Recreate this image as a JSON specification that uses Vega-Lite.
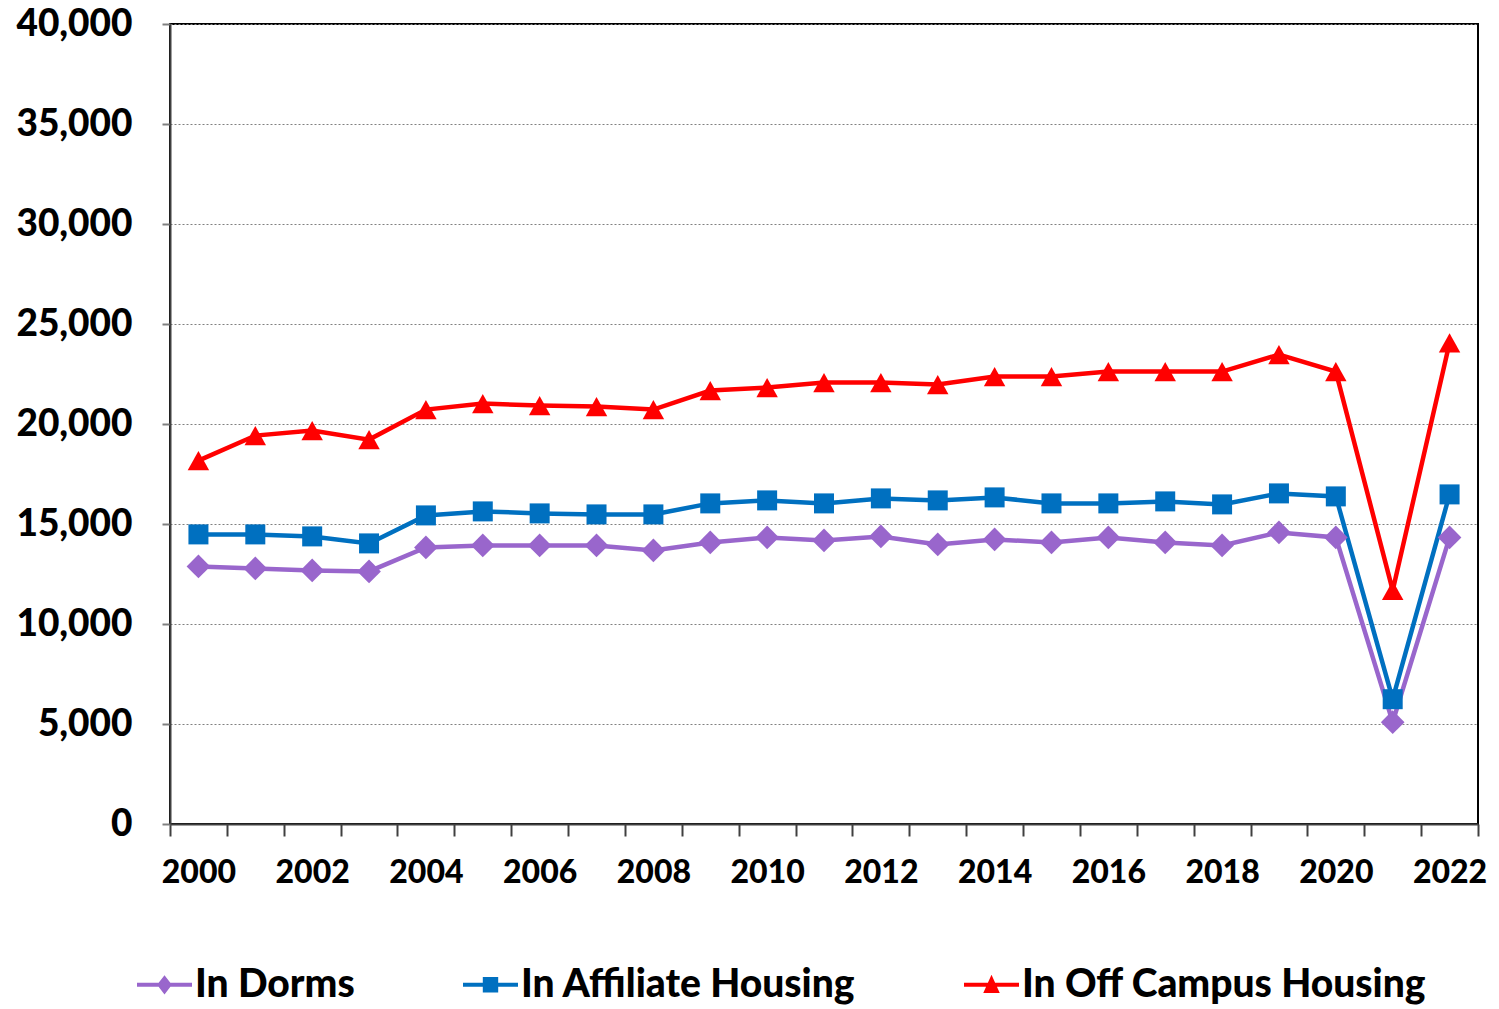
{
  "$schema": "https://vega.github.io/schema/vega-lite/v6.json",
  "width": 1308,
  "height": 800,
  "autosize": "none",
  "padding": {"left": 170, "top": 24, "right": 21, "bottom": 185},
  "background": "white",
  "config": {
    "font": "Lato",
    "view": {"stroke": "#000000", "strokeWidth": 2},
    "axis": {"labelFont": "Lato", "labelFontWeight": 900, "labelColor": "#000000"}
  },
  "data": {
    "values": [
      {"year": 2000, "In Dorms": 12880, "In Affiliate Housing": 14480, "In Off Campus Housing": 18170},
      {"year": 2001, "In Dorms": 12780, "In Affiliate Housing": 14480, "In Off Campus Housing": 19420},
      {"year": 2002, "In Dorms": 12680, "In Affiliate Housing": 14380, "In Off Campus Housing": 19670},
      {"year": 2003, "In Dorms": 12630, "In Affiliate Housing": 14030, "In Off Campus Housing": 19220},
      {"year": 2004, "In Dorms": 13830, "In Affiliate Housing": 15430, "In Off Campus Housing": 20720},
      {"year": 2005, "In Dorms": 13930, "In Affiliate Housing": 15630, "In Off Campus Housing": 21020},
      {"year": 2006, "In Dorms": 13930, "In Affiliate Housing": 15530, "In Off Campus Housing": 20920},
      {"year": 2007, "In Dorms": 13930, "In Affiliate Housing": 15480, "In Off Campus Housing": 20870},
      {"year": 2008, "In Dorms": 13680, "In Affiliate Housing": 15480, "In Off Campus Housing": 20720},
      {"year": 2009, "In Dorms": 14080, "In Affiliate Housing": 16030, "In Off Campus Housing": 21670},
      {"year": 2010, "In Dorms": 14330, "In Affiliate Housing": 16180, "In Off Campus Housing": 21820},
      {"year": 2011, "In Dorms": 14180, "In Affiliate Housing": 16030, "In Off Campus Housing": 22070},
      {"year": 2012, "In Dorms": 14380, "In Affiliate Housing": 16280, "In Off Campus Housing": 22070},
      {"year": 2013, "In Dorms": 13980, "In Affiliate Housing": 16180, "In Off Campus Housing": 21970},
      {"year": 2014, "In Dorms": 14230, "In Affiliate Housing": 16330, "In Off Campus Housing": 22370},
      {"year": 2015, "In Dorms": 14080, "In Affiliate Housing": 16030, "In Off Campus Housing": 22370},
      {"year": 2016, "In Dorms": 14330, "In Affiliate Housing": 16030, "In Off Campus Housing": 22620},
      {"year": 2017, "In Dorms": 14080, "In Affiliate Housing": 16130, "In Off Campus Housing": 22620},
      {"year": 2018, "In Dorms": 13930, "In Affiliate Housing": 15980, "In Off Campus Housing": 22620},
      {"year": 2019, "In Dorms": 14580, "In Affiliate Housing": 16530, "In Off Campus Housing": 23470},
      {"year": 2020, "In Dorms": 14330, "In Affiliate Housing": 16380, "In Off Campus Housing": 22620},
      {"year": 2021, "In Dorms": 5090, "In Affiliate Housing": 6240, "In Off Campus Housing": 11680},
      {"year": 2022, "In Dorms": 14330, "In Affiliate Housing": 16480, "In Off Campus Housing": 24060}
    ]
  },
  "transform": [
    {"fold": ["In Dorms", "In Affiliate Housing", "In Off Campus Housing"], "as": ["series", "value"]}
  ],
  "encoding": {
    "x": {
      "field": "year", "type": "ordinal",
      "scale": {"paddingInner": 0, "paddingOuter": 0},
      "axis": {
        "title": null, "labelAngle": 0, "labelFontSize": 32,
        "labelExpr": "datum.value % 2 == 0 ? datum.label : ''",
        "tickBand": "extent", "tickSize": 12, "tickColor": "#404040", "tickWidth": 2,
        "domainColor": "#404040", "domainWidth": 2, "labelPadding": 21, "grid": false
      }
    },
    "y": {
      "field": "value", "type": "quantitative",
      "scale": {"domain": [0, 40000], "nice": false},
      "axis": {
        "title": null, "values": [0, 5000, 10000, 15000, 20000, 25000, 30000, 35000, 40000],
        "format": ",d", "labelFontSize": 37, "labelPadding": 30, "tickSize": 8,
        "tickColor": "#808080", "tickWidth": 2, "domainColor": "#404040", "domainWidth": 2,
        "grid": true, "gridColor": "#808080", "gridDash": [2, 2], "gridWidth": 1
      }
    },
    "color": {
      "field": "series", "type": "nominal",
      "sort": ["In Dorms", "In Affiliate Housing", "In Off Campus Housing"],
      "scale": {"domain": ["In Dorms", "In Affiliate Housing", "In Off Campus Housing"], "range": ["#9966CC", "#0070C0", "#FF0000"]},
      "legend": {
        "title": null, "orient": "none", "direction": "horizontal",
        "legendX": -33, "legendY": 933,
        "labelFontSize": 39, "labelFont": "Lato", "labelFontWeight": 900, "labelColor": "#000000",
        "symbolSize": 3025, "symbolStrokeWidth": 0, "symbolOpacity": 1, "labelOffset": 3, "columnPadding": 108,
        "labelLimit": 700
      }
    }
  },
  "layer": [
    {
      "mark": {"type": "point", "filled": true, "opacity": 0},
      "encoding": {
        "shape": {
          "field": "series", "type": "nominal", "legend": null,
          "scale": {
            "domain": ["In Dorms", "In Affiliate Housing", "In Off Campus Housing"],
            "range": [
              "M-1,-0.07H1V0.07H-1ZM0,-0.35L0.27,0L0,0.35L-0.27,0Z",
              "M-1,-0.07H1V0.07H-1ZM-0.28,-0.28H0.28V0.28H-0.28Z",
              "M-1,-0.07H1V0.07H-1ZM0,-0.36L0.3,0.3L-0.3,0.3Z"
            ]
          }
        }
      }
    },
    {
      "mark": {"type": "line", "strokeWidth": 4.5}
    },
    {
      "transform": [{"filter": {"field": "series", "equal": "In Dorms"}}],
      "mark": {"type": "point", "filled": true, "opacity": 1, "shape": "diamond", "size": 560}
    },
    {
      "transform": [{"filter": {"field": "series", "equal": "In Affiliate Housing"}}],
      "mark": {"type": "point", "filled": true, "opacity": 1, "shape": "square", "size": 400}
    },
    {
      "transform": [{"filter": {"field": "series", "equal": "In Off Campus Housing"}}],
      "mark": {"type": "point", "filled": true, "opacity": 1, "shape": "M0,-0.9L1,0.9L-1,0.9Z", "size": 460}
    }
  ]
}
